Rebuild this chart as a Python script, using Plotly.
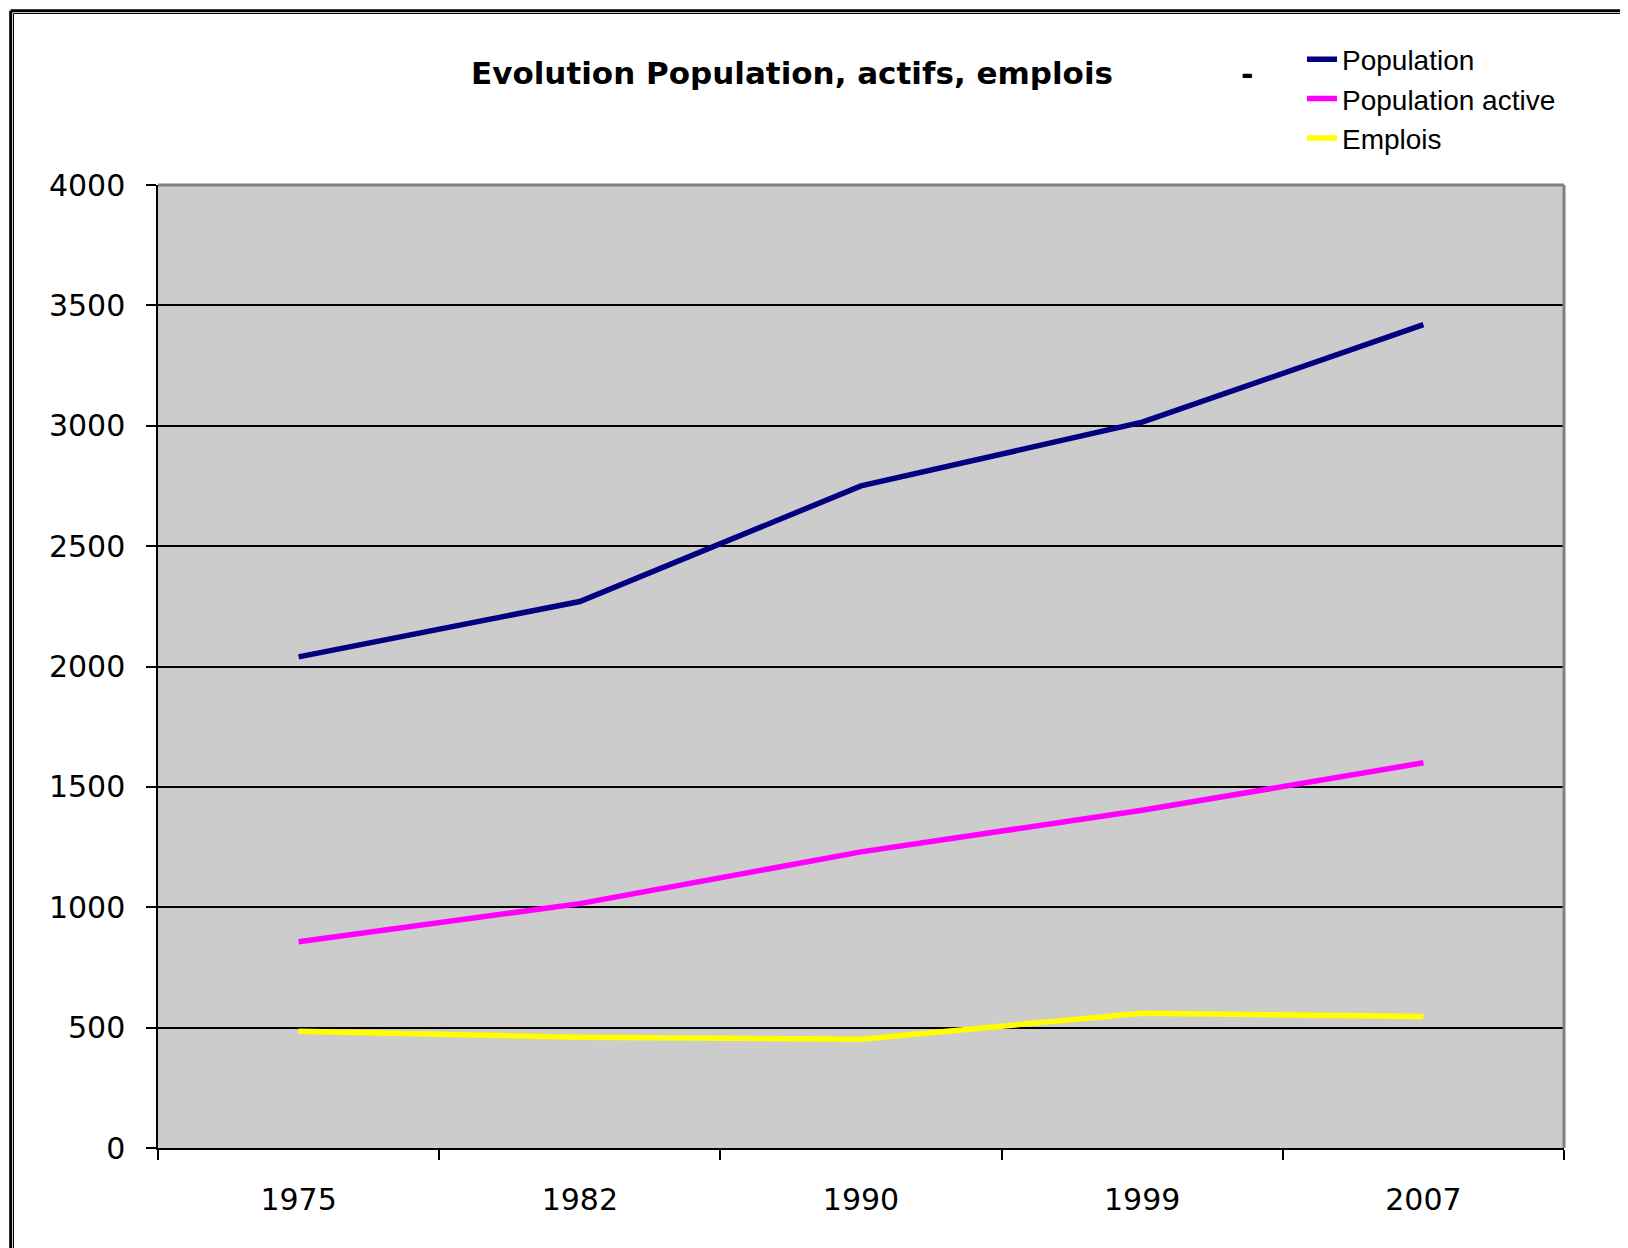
import plotly.graph_objects as go

years = ["1975", "1982", "1990", "1999", "2007"]
population = [2040, 2270, 2750, 3015, 3420]
population_active = [857, 1015, 1230, 1403, 1600]
emplois = [485, 460, 452, 560, 546]

series_names = ["Population", "Population active", "Emplois"]
series_colors = ["#000080", "#FF00FF", "#FFFF00"]
title_text = "Evolution Population, actifs, emplois"

# page body has an 8px margin; positions below are in figure coordinates
W, H = 1620, 1240
L, R, T, B = 150, 1556, 177, 1140
PW, PH = R - L, B - T

def px_x(x):
    return (x - L) / PW

def px_y(y):
    return 1 + (T - y) / PH

fig = go.Figure()
for name, vals, col in zip(series_names, [population, population_active, emplois], series_colors):
    fig.add_trace(go.Scatter(x=years, y=vals, mode="lines", name=name,
                             line=dict(color=col, width=5.5)))

tickfont = dict(family="DejaVu Sans", size=30, color="black")

fig.update_layout(
    width=W, height=H,
    margin=dict(l=L, r=W - R, t=T, b=H - B, autoexpand=False),
    paper_bgcolor="white",
    plot_bgcolor="#CCCCCC",
    title=dict(text="<b>" + title_text + "</b>", x=px_x(784), xref="paper",
               xanchor="center", y=1 - 65 / H, yref="container", yanchor="middle",
               font=dict(family="DejaVu Sans", size=31, color="black")),
    legend=dict(x=px_x(1294), xanchor="left", y=px_y(26.5), yanchor="top",
                font=dict(family="Liberation Sans", size=28, color="black"),
                bgcolor="rgba(0,0,0,0)", borderwidth=0),
    showlegend=True,
    xaxis=dict(type="category", categoryorder="array", categoryarray=years,
               range=[-0.5, len(years) - 0.5],
               showgrid=False, showline=True, linecolor="black", linewidth=2,
               ticks="outside", tickson="boundaries", ticklen=10, tickwidth=1.5,
               tickcolor="black", tickfont=tickfont, ticklabelstandoff=24,
               zeroline=False),
    yaxis=dict(range=[0, 4000], dtick=500, tick0=0, showgrid=True,
               gridcolor="black", gridwidth=1.5, showline=True, linecolor="black",
               linewidth=1.5, ticks="outside", ticklen=10, tickwidth=1.5,
               tickcolor="black", tickfont=tickfont, ticklabelstandoff=15,
               zeroline=False),
)

shapes = [
    # outer double frame (left & top)
    dict(type="line", xref="paper", yref="paper", x0=px_x(2.7), x1=px_x(2.7),
         y0=px_y(2.7), y1=px_y(H + 5), line=dict(color="black", width=3)),
    dict(type="line", xref="paper", yref="paper", x0=px_x(5.5), x1=px_x(5.5),
         y0=px_y(5.5), y1=px_y(H + 5), line=dict(color="black", width=1)),
    dict(type="line", xref="paper", yref="paper", x0=px_x(2.7), x1=px_x(W + 5),
         y0=px_y(2.7), y1=px_y(2.7), line=dict(color="black", width=3)),
    dict(type="line", xref="paper", yref="paper", x0=px_x(5.5), x1=px_x(W + 5),
         y0=px_y(5.5), y1=px_y(5.5), line=dict(color="black", width=1)),
    # plot area gray border (top & right)
    dict(type="line", xref="paper", yref="paper", x0=0, x1=1, y0=1, y1=1,
         line=dict(color="#808080", width=3)),
    dict(type="line", xref="paper", yref="paper", x0=1, x1=1, y0=0, y1=1,
         line=dict(color="#808080", width=3)),
]
fig.update_layout(shapes=shapes)

fig.add_annotation(text="<b>-</b>", xref="paper", yref="paper", x=px_x(1239), y=px_y(66.5),
                   showarrow=False, xanchor="center", yanchor="middle",
                   font=dict(family="DejaVu Sans", size=30, color="black"))

fig.write_html("out.html")
